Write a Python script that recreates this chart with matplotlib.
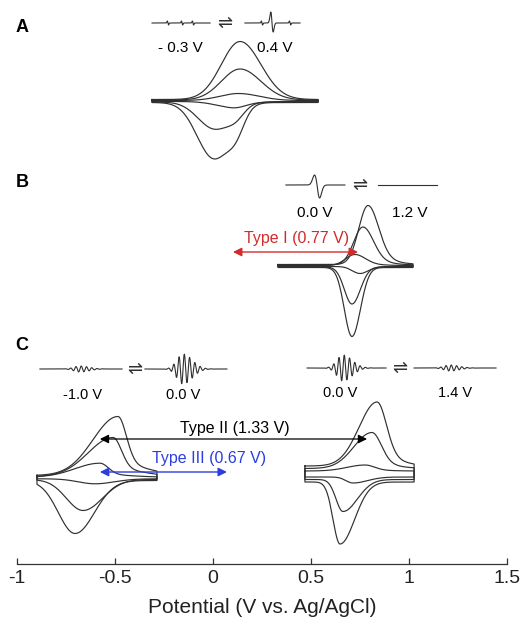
import numpy as np
import matplotlib.pyplot as plt

plt.rcParams['font.family'] = ['Liberation Sans', 'DejaVu Sans']

# cyclic voltammograms: sweep window (V), peak potentials (V) and peak currents (a.u.),
# one entry per scan rate, largest first
A_WINDOW = (-0.311, 0.536)
A_EPA = [0.138, 0.138, 0.130]
A_IPA = [58, 31, 7]
A_EPC = [0.005, 0.010, 0.090]
A_IPC = [56, 27, 5]
A_CAP = [1.5, 1.0, 0.5]

B_WINDOW = (0.332, 1.020)
B_EPA = [0.791, 0.765, 0.724]
B_IPA = [59, 38, 11]
B_EPC = [0.709, 0.709, 0.750]
B_IPC = [69, 37, 7]
B_CAP = [1.5, 1.0, 0.5]

CL_WINDOW = (-0.898, -0.286)
CL_EPA = [-0.485, -0.510, -0.577]
CL_IPA = [59, 39, 14]
CL_EPC = [-0.704, -0.663, -0.602]
CL_IPC = [53, 31, 5]
CL_CAP = [2.5, 1.5, 0.8]

CR_WINDOW = (0.469, 1.026)
CR_EPA = [0.837, 0.811, 0.776]
CR_IPA = [64, 36, 6]
CR_EPC = [0.648, 0.663, 0.714]
CR_IPC = [62, 32, 6]
CR_CAP = [8.0, 5.5, 3.0]

# spectra above each panel: centre (V), amplitude (a.u.)
A_SPIKES = [-0.230, -0.158, -0.102, 0.250, 0.393]
A_LINE_E = 0.301
A_LINE_AMP = (11, 9)
B_LINE_E = 0.531
B_LINE_AMP = (10, 13)
C_HF_E = [-0.679, -0.153, 0.663, 1.209]
C_HF_AMP = [3, 15, 13, 3]

# potentials shown by the arrows
TYPE_I = (0.102, 0.740)
TYPE_II = (-0.577, 0.786)
TYPE_III = (-0.577, 0.071)

LINE = '#303030'
RED = '#d42a2a'
BLUE = '#2b3de0'


def peak(E, Ep, h, w_lead, w_trail, direction, tail=0.0, w_tail=0.3):
    u = (E - Ep) * direction
    g = np.where(u < 0,
                 np.exp(-(u / w_lead) ** 2),
                 (1 - tail) * np.exp(-(u / w_trail) ** 2) + tail * np.exp(-(u / w_tail) ** 2))
    return h * g


def draw_cv(ax, window, base, epa, ipa, epc, ipc, cap, wa, wc,
            tail_a=(0.0, 0.3), tail_c=(0.0, 0.3), shoulder=None):
    E = np.linspace(window[0], window[1], 500)
    for k in range(len(ipa)):
        up = base + cap[k] + peak(E, epa[k], ipa[k], wa[0], wa[1], 1, *tail_a)
        lo = base - cap[k] - peak(E, epc[k], ipc[k], wc[0], wc[1], -1, *tail_c)
        if shoulder is not None:
            lo = lo - ipc[k] * shoulder[1] * np.exp(-((E - shoulder[0]) / shoulder[2]) ** 2)
        x = np.concatenate([E, E[::-1], E[:1]])
        y = np.concatenate([up, lo[::-1], up[:1]])
        ax.plot(x, y, color=LINE, lw=0.85)


def deriv_line(E, E0, amps, s):
    u = E - E0
    amp = np.where(u < 0, amps[0], amps[1])
    return -amp * (u / s) * np.exp(0.5 - 0.5 * (u / s) ** 2)


def hyperfine(E, E0, amp, period=0.027, env=0.055):
    u = E - E0
    w = np.where(u < 0, env * 0.8, env * 1.2)
    return amp * np.sin(2 * np.pi * u / period) * np.exp(-(u / w) ** 2)


def spectrum(ax, e0, e1, y0, signal):
    E = np.linspace(e0, e1, 800)
    ax.plot(E, y0 + signal(E), color=LINE, lw=0.8)


def equilibrium(ax, x, y):
    ax.text(x, y, '⇌', ha='center', va='center', fontsize=13,
            family='DejaVu Sans', color=LINE)


fig = plt.figure(figsize=(5.28, 6.23), dpi=100)
ax = fig.add_axes([17 / 528, 59 / 623, 490 / 528, 564 / 623])
ax.set_xlim(-1, 1.5)
ax.set_ylim(0, 564)

# panel A
draw_cv(ax, A_WINDOW, 463, A_EPA, A_IPA, A_EPC, A_IPC, A_CAP,
        (0.135, 0.15), (0.12, 0.12), shoulder=(0.12, 0.3, 0.06))
spectrum(ax, -0.311, -0.015, 541,
         lambda E: sum(deriv_line(E, c, (2, 2), 0.003) for c in A_SPIKES[:3]))
spectrum(ax, 0.163, 0.444, 541,
         lambda E: deriv_line(E, A_LINE_E, A_LINE_AMP, 0.006)
         + sum(deriv_line(E, c, (2, 2), 0.003) for c in A_SPIKES[3:]))
equilibrium(ax, 0.061, 541)
ax.text(-0.168, 516, '- 0.3 V', ha='center', va='center', fontsize=11)
ax.text(0.316, 516, '0.4 V', ha='center', va='center', fontsize=11)

# panel B
draw_cv(ax, B_WINDOW, 298, B_EPA, B_IPA, B_EPC, B_IPC, B_CAP,
        (0.067, 0.075), (0.061, 0.055), tail_a=(0.12, 0.15))
spectrum(ax, 0.372, 0.673, 379, lambda E: deriv_line(E, B_LINE_E, B_LINE_AMP, 0.013))
spectrum(ax, 0.842, 1.143, 379, lambda E: 0 * E)
equilibrium(ax, 0.750, 379)
ax.text(0.520, 351, '0.0 V', ha='center', va='center', fontsize=11)
ax.text(1.005, 351, '1.2 V', ha='center', va='center', fontsize=11)
ax.annotate('', xy=(TYPE_I[0], 312), xytext=(TYPE_I[1], 312),
            arrowprops=dict(arrowstyle='<|-|>', color=RED, lw=1.0, mutation_scale=13,
                            shrinkA=0, shrinkB=0))
ax.text(sum(TYPE_I) / 2 + 0.005, 326, 'Type I (0.77 V)', ha='center', va='center',
        fontsize=11.5, color=RED)

# panel C
draw_cv(ax, CL_WINDOW, 86, CL_EPA, CL_IPA, CL_EPC, CL_IPC, CL_CAP,
        (0.18, 0.06), (0.14, 0.12), tail_a=(0.2, 0.2))
draw_cv(ax, CR_WINDOW, 90, CR_EPA, CR_IPA, CR_EPC, CR_IPC, CR_CAP,
        (0.13, 0.067), (0.105, 0.05), tail_a=(0.15, 0.15))
spectrum(ax, -0.883, -0.464, 195, lambda E: hyperfine(E, C_HF_E[0], C_HF_AMP[0]))
spectrum(ax, -0.347, 0.071, 195, lambda E: hyperfine(E, C_HF_E[1], C_HF_AMP[1]))
spectrum(ax, 0.480, 0.883, 196, lambda E: hyperfine(E, C_HF_E[2], C_HF_AMP[2]))
spectrum(ax, 1.026, 1.444, 196, lambda E: hyperfine(E, C_HF_E[3], C_HF_AMP[3]))
equilibrium(ax, -0.398, 195)
equilibrium(ax, 0.954, 196)
ax.text(-0.663, 169, '-1.0 V', ha='center', va='center', fontsize=10.5)
ax.text(-0.153, 169, '0.0 V', ha='center', va='center', fontsize=10.5)
ax.text(0.648, 171, '0.0 V', ha='center', va='center', fontsize=10.5)
ax.text(1.235, 171, '1.4 V', ha='center', va='center', fontsize=10.5)

ax.annotate('', xy=(TYPE_II[0], 125), xytext=(TYPE_II[1], 125),
            arrowprops=dict(arrowstyle='<|-|>', color='black', lw=0.9, mutation_scale=13,
                            shrinkA=0, shrinkB=0))
ax.text(0.112, 136, 'Type II (1.33 V)', ha='center', va='center', fontsize=11.5)
ax.annotate('', xy=(TYPE_III[0], 92), xytext=(TYPE_III[1], 92),
            arrowprops=dict(arrowstyle='<|-|>', color=BLUE, lw=1.0, mutation_scale=13,
                            shrinkA=0, shrinkB=0))
ax.text(-0.020, 106, 'Type III (0.67 V)', ha='center', va='center', fontsize=11.5, color=BLUE)

# panel letters
for letter, y in (('A', 27), ('B', 183), ('C', 345)):
    fig.text(22 / 528, 1 - y / 623, letter, ha='center', va='center',
             fontsize=13, fontweight='bold')

for side in ('left', 'right', 'top'):
    ax.spines[side].set_visible(False)
ax.spines['bottom'].set_color('#333333')
ax.spines['bottom'].set_linewidth(0.9)
ax.set_yticks([])
ax.set_xticks([-1, -0.5, 0, 0.5, 1, 1.5])
ax.set_xticklabels(['-1', '-0.5', '0', '0.5', '1', '1.5'])
ax.tick_params(axis='x', direction='in', length=4, width=0.9, color='#333333',
               labelsize=14, pad=4, labelcolor='#222222')
ax.set_xlabel('Potential (V vs. Ag/AgCl)', fontsize=15, labelpad=8, color='#222222')

fig.savefig('out.png', dpi=100)
